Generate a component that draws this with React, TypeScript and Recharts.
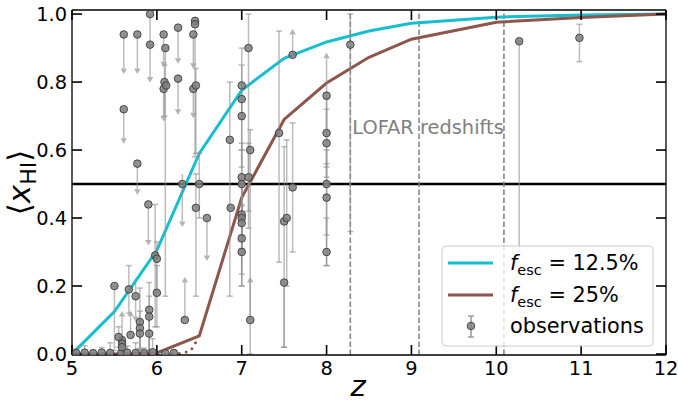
import React from 'react';
import { ComposedChart, Line, Scatter, ErrorBar, XAxis, YAxis, ReferenceLine, ReferenceDot } from 'recharts';

const FONT = '"DejaVu Sans", Verdana, sans-serif';

const xTicks = [5, 6, 7, 8, 9, 10, 11, 12];
const yTicks = [0, 0.2, 0.4, 0.6, 0.8, 1.0];

// model curves
const modelZ = [5, 5.5, 6, 6.5, 7, 7.5, 8, 8.5, 9, 10, 11, 12];
const fesc125 = [0, 0.125, 0.305, 0.59, 0.776, 0.87, 0.918, 0.95, 0.973, 0.991, 0.997, 1.0];
const fesc25 = [0, 0, 0.003, 0.053, 0.46, 0.69, 0.797, 0.873, 0.926, 0.976, 0.99, 1.0];

const dottedZ = [6.1, 6.3, 6.4, 6.46];
const dottedX = [0, 0.002, 0.01, 0.035];

const lofarZ = [8.28, 9.09, 10.09];

// observations: redshift, x_HI, lower err, upper err, limit type
const obsZ = [
  5.05, 5.15, 5.25, 5.35, 5.45, 5.58, 5.65, 5.75, 5.85, 5.95, 6.1, 6.2,
  5.5, 5.61, 5.61, 5.77, 5.77, 5.92, 5.92, 6.08, 6.1, 6.09, 6.11, 6.08,
  6.25, 6.25, 6.45, 6.45, 6.43, 6.43, 6.46, 5.9, 5.98, 6.0, 6.0, 5.67,
  5.75, 5.91, 5.91, 5.8, 5.8, 5.8, 5.69, 5.55, 5.59, 5.59, 5.59, 5.91,
  6.3, 6.33, 6.5, 6.46, 6.59, 6.86, 6.87, 7.1, 7.0, 7.0, 7.0, 7.0,
  7.0, 7.0, 7.0, 7.0, 7.0, 7.0, 7.08, 7.08, 7.1, 7.6, 7.44, 7.6,
  7.5, 7.53, 7.5, 8.0, 8.0, 8.0, 8.0, 8.0, 8.0, 8.28, 10.27, 10.98,
];
const obsX = [
  0.003, 0.004, 0.002, 0.004, 0.003, 0.002, 0.004, 0.003, 0.002, 0.005, 0.002, 0.003,
  0.2, 0.94, 0.72, 0.94, 0.56, 1.0, 0.91, 0.94, 0.9, 0.8, 0.79, 0.78,
  0.96, 0.81, 0.98, 0.97, 0.94, 0.78, 0.79, 0.44, 0.29, 0.28, 0.18, 0.19,
  0.17, 0.13, 0.11, 0.094, 0.076, 0.06, 0.056, 0.05, 0.04, 0.03, 0.02, 0.06,
  0.5, 0.1, 0.5, 0.43, 0.4, 0.63, 0.43, 0.1, 0.79, 0.75, 0.7, 0.52,
  0.5, 0.41, 0.4, 0.385, 0.34, 0.3, 0.9, 0.52, 0.6, 0.88, 0.65, 0.49,
  0.39, 0.4, 0.21, 0.76, 0.65, 0.62, 0.5, 0.46, 0.3, 0.91, 0.92, 0.93,
];
const obsLo = [
  0.003, 0.004, 0.002, 0.004, 0.003, 0.002, 0.004, 0.003, 0.002, 0.005, 0.002, 0.003,
  0.19, 0.1, 0.085, 0.1, 0.075, 0.185, 0, 0.08, 0.73, 0.1, 0, 0.08,
  0.09, 0.09, 0.4, 0, 0.085, 0.07, 0.2, 0.105, 0.21, 0.1, 0.1, 0.07,
  0.06, 0.12, 0.1, 0.08, 0.06, 0.05, 0, 0.03, 0, 0.02, 0.015, 0.05,
  0.11, 0, 0.1, 0.26, 0.11, 0.46, 0, 0, 0.1, 0.2, 0.1, 0.1,
  0.15, 0.1, 0.1, 0.15, 0.14, 0.1, 0.53, 0.1, 0.6, 0, 0.38, 0.19,
  0.37, 0.2, 0.19, 0.1, 0.1, 0.1, 0.15, 0.2, 0.04, 0.55, 0.62, 0.07,
];
const obsHi = [
  0.012, 0.02, 0.01, 0.015, 0.03, 0.01, 0.02, 0.03, 0.015, 0.04, 0.01, 0.008,
  0, 0, 0, 0, 0, 0, 0, 0, 0, 0.05, 0, 0,
  0, 0, 0, 0, 0, 0, 0.05, 0, 0.15, 0.05, 0.08, 0.07,
  0.04, 0.08, 0.06, 0.1, 0.05, 0.04, 0.055, 0.03, 0.07, 0.02, 0.015, 0.05,
  0.03, 0.11, 0.09, 0.1, 0, 0.17, 0, 0.11, 0.11, 0.1, 0.05, 0.1,
  0.1, 0.1, 0.1, 0.05, 0.1, 0.1, 0.1, 0.1, 0.06, 0.06, 0.3, 0.19,
  0.22, 0.23, 0, 0.11, 0.1, 0.1, 0.1, 0.1, 0.1, 0.09, 0, 0.04,
];
const obsLim = [
  '', '', '', '', '', '', '', '', '', '', '', '',
  '', 'down', 'down', 'down', 'down', 'down', '', 'down', '', '', '', 'down',
  'down', 'down', '', '', 'down', 'down', '', 'down', '', '', '', '',
  'down', '', '', '', '', '', 'up', '', 'up', '', '', '',
  'down', 'up', '', '', 'down', '', '', 'up', '', '', '', '',
  '', '', '', '', '', '', '', '', '', 'up', '', '',
  '', '', '', 'up', '', '', '', '', '', '', '', '',
];

const CYAN = '#17becf';
const BROWN = '#8c564b';

const toPts = (zs: number[], vs: number[]) => zs.map((z, i) => ({ z, v: vs[i] }));

const obs = obsZ.map((z, i) => ({ z, v: obsX[i], err: [obsLo[i], obsHi[i]], lim: obsLim[i] }));
const measured = obs.filter((o) => o.lim === '');
const limits = obs.filter((o) => o.lim !== '');
const arrowTips = limits.map((o) => ({
  z: o.z,
  v: o.lim === 'down' ? o.v - o.err[0] : o.v + o.err[1],
  lim: o.lim,
}));

const ObsDot = (p: any) => (
  <circle cx={p.cx} cy={p.cy} r={3.8} fill="#808080" fillOpacity={0.85} stroke="#3c3c3c" strokeWidth={0.9} />
);

const ArrowHead = (p: any) => {
  const d = p.payload.lim === 'down' ? 1 : -1;
  return (
    <path
      d={`M${p.cx - 3.2},${p.cy} L${p.cx + 3.2},${p.cy} L${p.cx},${p.cy + 5.5 * d} Z`}
      fill="#9a9a9a"
      fillOpacity={0.75}
    />
  );
};

const YTitle = ({ viewBox }: any) => {
  const x = viewBox.x + 8;
  const y = viewBox.y + viewBox.height / 2;
  return (
    <text transform={`rotate(-90 ${x} ${y})`} x={x} y={y} textAnchor="middle" fontFamily={FONT} fontSize={31} fill="#000">
      ⟨<tspan fontStyle="italic">x</tspan>
      <tspan fontSize={22} dy={6}>HI</tspan>
      <tspan dy={-6}>⟩</tspan>
    </text>
  );
};

const XTitle = ({ viewBox }: any) => (
  <text x={viewBox.x + viewBox.width / 2 - 11} y={viewBox.y + 41} textAnchor="middle" fontFamily={FONT} fontSize={29} fontStyle="italic" fill="#000">
    z
  </text>
);

const LegendBox = () => (
  <svg width={214} height={103} style={{ position: 'absolute', left: 441, top: 245 }}>
    <rect x={1} y={1} width={211} height={100} rx={4} fill="#fff" fillOpacity={0.8} stroke="#cccccc" strokeWidth={1} />
    <line x1={7} x2={52} y1={18} y2={18} stroke={CYAN} strokeWidth={3} />
    <line x1={7} x2={52} y1={50} y2={50} stroke={BROWN} strokeWidth={3} />
    <line x1={30} x2={30} y1={71} y2={92} stroke="#999" strokeWidth={1.5} />
    <line x1={27} x2={33} y1={71} y2={71} stroke="#999" strokeWidth={1.5} />
    <line x1={27} x2={33} y1={92} y2={92} stroke="#999" strokeWidth={1.5} />
    <circle cx={30} cy={81} r={3.8} fill="#808080" fillOpacity={0.85} stroke="#3c3c3c" strokeWidth={0.9} />
    <g fontFamily={FONT} fontSize={20.8} fill="#000">
      <text x={69} y={25}>
        <tspan fontStyle="italic">f</tspan>
        <tspan fontSize={14.5} dy={5}>esc</tspan>
        <tspan dy={-5}> = 12.5%</tspan>
      </text>
      <text x={69} y={57}>
        <tspan fontStyle="italic">f</tspan>
        <tspan fontSize={14.5} dy={5}>esc</tspan>
        <tspan dy={-5}> = 25%</tspan>
      </text>
      <text x={69} y={88}>observations</text>
    </g>
  </svg>
);

const tickStyle = { fontSize: 19.4, fill: '#000', fontFamily: FONT };
const tickLineStyle = { stroke: '#000', strokeWidth: 1.6 };
const axisLineStyle = { stroke: '#000', strokeWidth: 1.3 };
const NoLabel = () => <g />;

export default function App() {
  return (
    <div style={{ position: 'absolute', left: 0, top: 0, width: 678, height: 408, background: '#fff' }}>
      <ComposedChart width={678} height={408} margin={{ top: 9, right: 11, bottom: 23, left: 22 }}>
        <XAxis
          xAxisId="b"
          dataKey="z"
          type="number"
          domain={[5, 12]}
          ticks={xTicks}
          interval={0}
          allowDataOverflow
          height={30}
          tick={tickStyle}
          tickSize={-10}
          tickMargin={16}
          tickLine={tickLineStyle}
          axisLine={axisLineStyle}
          label={<XTitle />}
        />
        <XAxis
          xAxisId="t"
          orientation="top"
          dataKey="z"
          type="number"
          domain={[5, 12]}
          ticks={xTicks}
          interval={0}
          allowDataOverflow
          height={1}
          tick={NoLabel}
          tickSize={-10}
          tickLine={tickLineStyle}
          axisLine={axisLineStyle}
        />
        <YAxis
          yAxisId="l"
          dataKey="v"
          type="number"
          domain={[-0.003, 1.012]}
          ticks={yTicks}
          interval={0}
          allowDataOverflow
          width={50}
          tick={tickStyle}
          tickFormatter={(v: number) => v.toFixed(1)}
          tickSize={-10}
          tickMargin={15}
          tickLine={tickLineStyle}
          axisLine={axisLineStyle}
          label={<YTitle />}
        />
        <YAxis
          yAxisId="r"
          orientation="right"
          dataKey="v"
          type="number"
          domain={[-0.003, 1.012]}
          ticks={yTicks}
          interval={0}
          allowDataOverflow
          width={1}
          tick={NoLabel}
          tickSize={-10}
          tickLine={tickLineStyle}
          axisLine={axisLineStyle}
        />

        <ReferenceLine xAxisId="b" yAxisId="l" y={0.5} stroke="#000" strokeWidth={2.6} />
        {lofarZ.map((z) => (
          <ReferenceLine key={z} xAxisId="b" yAxisId="l" x={z} stroke="#808080" strokeWidth={1.5} strokeDasharray="5.5 2.5" />
        ))}
        <ReferenceDot
          xAxisId="b"
          yAxisId="l"
          x={lofarZ[0]}
          y={0.668}
          r={0}
          stroke="none"
          fill="none"
          label={{ value: 'LOFAR redshifts', position: 'right', offset: 2, fill: '#808080', fontSize: 19.4, fontFamily: FONT }}
        />

        <Line xAxisId="b" yAxisId="l" data={toPts(modelZ, fesc125)} dataKey="v" type="linear" stroke={CYAN} strokeWidth={3} dot={false} isAnimationActive={false} />
        <Line xAxisId="b" yAxisId="l" data={toPts(modelZ, fesc25)} dataKey="v" type="linear" stroke={BROWN} strokeWidth={3} dot={false} isAnimationActive={false} />
        <Line
          xAxisId="b"
          yAxisId="l"
          data={toPts(dottedZ, dottedX)}
          dataKey="v"
          type="linear"
          stroke={BROWN}
          strokeWidth={3}
          strokeDasharray="0 7"
          strokeLinecap="round"
          dot={false}
          isAnimationActive={false}
        />

        <Scatter xAxisId="b" yAxisId="l" data={limits} dataKey="v" shape={ObsDot} isAnimationActive={false}>
          <ErrorBar dataKey="err" direction="y" width={0} stroke="#8f8f8f" strokeWidth={1.5} strokeOpacity={0.6} />
        </Scatter>
        <Scatter xAxisId="b" yAxisId="l" data={arrowTips} dataKey="v" shape={ArrowHead} isAnimationActive={false} />
        <Scatter xAxisId="b" yAxisId="l" data={measured} dataKey="v" shape={ObsDot} isAnimationActive={false}>
          <ErrorBar dataKey="err" direction="y" width={3} stroke="#8f8f8f" strokeWidth={1.5} strokeOpacity={0.6} />
        </Scatter>
      </ComposedChart>
      <LegendBox />
    </div>
  );
}
